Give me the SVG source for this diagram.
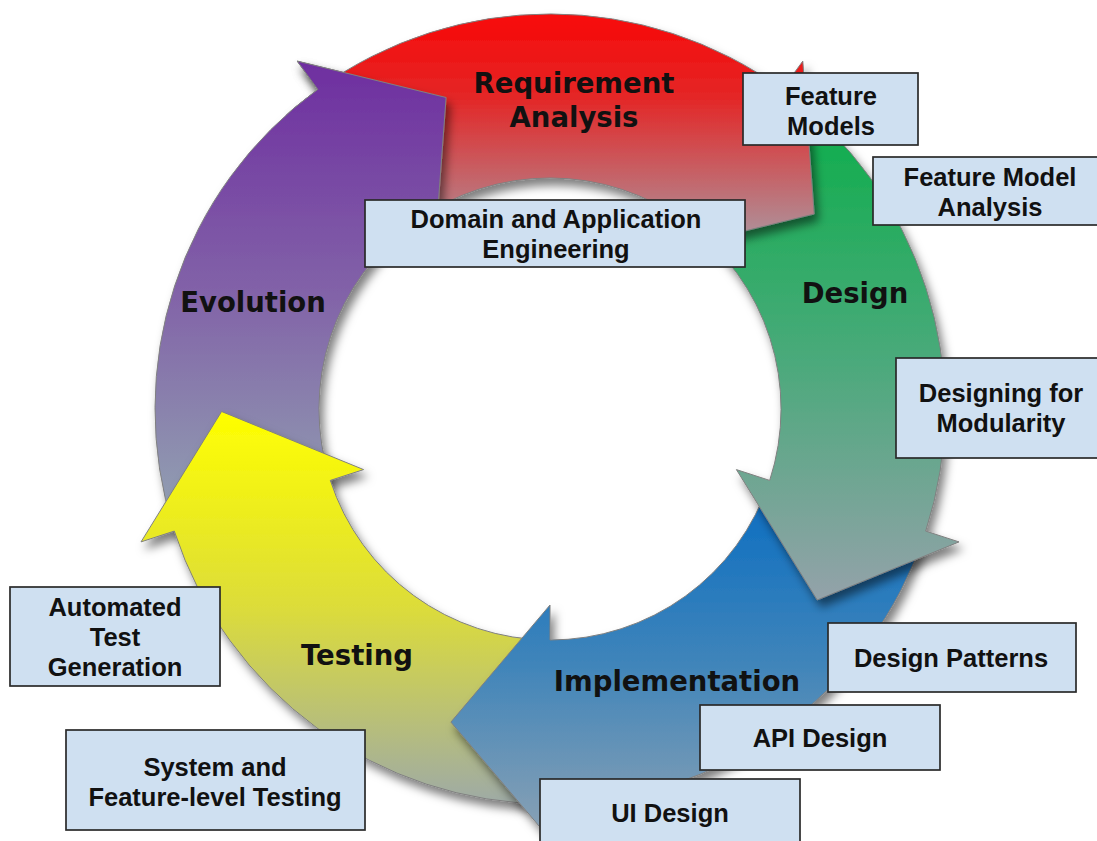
<svg xmlns="http://www.w3.org/2000/svg" xmlns:xlink="http://www.w3.org/1999/xlink" width="1097" height="841" viewBox="0 0 1097 841">
<style>
.arrow{stroke:#808080;stroke-width:1;filter:url(#sh)}
.phase{font-family:"DejaVu Sans",Verdana,sans-serif;font-weight:bold;font-size:27.5px;fill:#111;text-anchor:middle}
.box rect{fill:#cfe0f1;stroke:#2a2a2a;stroke-width:1.7}
.box text{font-family:"Liberation Sans",Arial,sans-serif;font-weight:bold;font-size:25.5px;fill:#111;text-anchor:middle}
</style>
<defs>
<filter id="sh" x="-20%" y="-20%" width="140%" height="140%">
<feDropShadow dx="4" dy="7" stdDeviation="5" flood-color="#000" flood-opacity="0.5"/>
</filter>
<linearGradient id="gRed" x1="0" y1="0" x2="0" y2="1">
<stop offset="0" stop-color="#f80808"/><stop offset="0.35" stop-color="#e42626"/><stop offset="1" stop-color="#a89ca6"/>
</linearGradient>
<linearGradient id="gGreen" x1="0" y1="0" x2="0" y2="1">
<stop offset="0" stop-color="#08ae46"/><stop offset="0.5" stop-color="#46aa78"/><stop offset="1" stop-color="#94a2aa"/>
</linearGradient>
<linearGradient id="gBlue" x1="0" y1="0" x2="0" y2="1">
<stop offset="0" stop-color="#086cc2"/><stop offset="0.5" stop-color="#3e84ba"/><stop offset="1" stop-color="#8ca2b4"/>
</linearGradient>
<linearGradient id="gYellow" x1="0" y1="0" x2="0" y2="1">
<stop offset="0" stop-color="#ffff00"/><stop offset="0.5" stop-color="#dcdc3a"/><stop offset="1" stop-color="#9eaaa6"/>
</linearGradient>
<linearGradient id="gPurple" x1="0" y1="0" x2="0" y2="1">
<stop offset="0" stop-color="#6e2ea0"/><stop offset="0.5" stop-color="#8263a8"/><stop offset="1" stop-color="#92a4b2"/>
</linearGradient>
<clipPath id="purpleHeadClip">
<polygon points="245,40 495,40 495,265 423,265 423,268 255.6,82 245,72"/>
</clipPath>
</defs>

<g id="connectors">
<g id="evolution">
<path id="pPurple" class="arrow" fill="url(#gPurple)" d="M173.7,529.1 A395,395 0 0 1 317.8,89.4 L297.2,61.1 L446.1,97.5 L434.8,250.4 L414.2,222.1 A231,231 0 0 0 329.9,479.2 Z"/>
</g>
<g id="testing">
<path class="arrow" fill="url(#gYellow)" d="M547.9,804 A395,395 0 0 1 174.3,531.1 L141,541.9 L221.6,411.5 L363.6,469.6 L330.3,480.4 A231,231 0 0 0 548.8,640 Z"/>
</g>
<g id="implementation">
<path class="arrow" fill="url(#gBlue)" d="M925,533 A395,395 0 0 1 550,804 L550,839 L450.9,722.1 L550,605 L550,640 A231,231 0 0 0 769.3,481.5 Z"/>
</g>
<g id="design">
<path class="arrow" fill="url(#gGreen)" d="M783.8,90.7 A395,395 0 0 1 925.7,531.1 L959,541.9 L817.2,600 L736.4,469.6 L769.7,480.4 A231,231 0 0 0 686.8,222.8 Z"/>
</g>
<g id="requirement-analysis">
<path class="arrow" fill="url(#gRed)" d="M319.5,88.2 A395,395 0 0 1 782.2,89.4 L802.8,61.1 L814.2,214 L665.2,250.4 L685.8,222.1 A231,231 0 0 0 415.2,221.4 Z"/>
</g>
<g id="evolution-head">
<use xlink:href="#pPurple" href="#pPurple" clip-path="url(#purpleHeadClip)"/>
</g>
</g>

<g id="phase-labels">
<text class="phase" x="574" y="93">Requirement</text>
<text class="phase" x="574" y="127">Analysis</text>
<text class="phase" x="855" y="303">Design</text>
<text class="phase" x="677" y="691">Implementation</text>
<text class="phase" x="357" y="665">Testing</text>
<text class="phase" x="253" y="312">Evolution</text>
</g>

<g id="box-domain" class="box">
<rect x="365" y="200" width="380" height="67"/>
<text x="556" y="228">Domain and Application</text>
<text x="556" y="258">Engineering</text>
</g>
<g id="box-feature-models" class="box">
<rect x="743" y="73" width="175" height="72"/>
<text x="831" y="105">Feature</text>
<text x="831" y="135">Models</text>
</g>
<g id="box-feature-model-analysis" class="box">
<rect x="873" y="157" width="226" height="68"/>
<text x="990" y="186">Feature Model</text>
<text x="990" y="216">Analysis</text>
</g>
<g id="box-modularity" class="box">
<rect x="896" y="358" width="203" height="100"/>
<text x="1001" y="402">Designing for</text>
<text x="1001" y="432">Modularity</text>
</g>
<g id="box-design-patterns" class="box">
<rect x="828" y="623" width="248" height="69"/>
<text x="951" y="667">Design Patterns</text>
</g>
<g id="box-api-design" class="box">
<rect x="700" y="705" width="240" height="65"/>
<text x="820" y="747">API Design</text>
</g>
<g id="box-ui-design" class="box">
<rect x="540" y="779" width="260" height="70"/>
<text x="670" y="822">UI Design</text>
</g>
<g id="box-automated-test" class="box">
<rect x="10" y="587" width="210" height="99"/>
<text x="115" y="616">Automated</text>
<text x="115" y="646">Test</text>
<text x="115" y="676">Generation</text>
</g>
<g id="box-system-testing" class="box">
<rect x="66" y="730" width="299" height="100"/>
<text x="215" y="776">System and</text>
<text x="215" y="806">Feature-level Testing</text>
</g>
</svg>
